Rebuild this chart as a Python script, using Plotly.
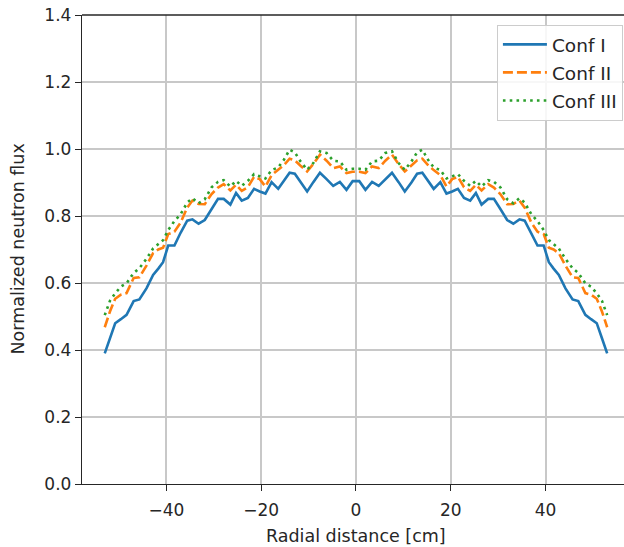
import plotly.graph_objects as go

# Radial positions of the computed flux points [cm]
radial_cm = [
    -53.0, -51.9, -50.8, -49.6, -48.4, -46.9, -45.7, -44.2, -42.8, -41.7,
    -40.7, -39.6, -38.3, -37.0, -35.6, -34.5, -33.2, -31.9, -30.5, -29.1,
    -27.9, -26.5, -25.3, -24.1, -22.8, -21.5, -20.3, -19.1, -17.8, -16.4,
    -15.2, -14.0, -12.9, -11.7, -10.3, -9.0, -7.6, -6.2, -4.8, -3.4,
    -2.0, -0.7,
    0.7, 2.0, 3.4, 4.8, 6.2, 7.6, 9.0, 10.3, 11.7, 12.9,
    14.0, 15.2, 16.4, 17.8, 19.1, 20.3, 21.5, 22.8, 24.1, 25.3,
    26.5, 27.9, 29.1, 30.5, 31.9, 33.2, 34.5, 35.6, 37.0, 38.3,
    39.6, 40.7, 41.7, 42.8, 44.2, 45.7, 46.9, 48.4, 49.6, 50.8,
    51.9, 53.0,
]

flux_conf1 = [
    0.390, 0.435, 0.480, 0.492, 0.505, 0.546, 0.551, 0.584, 0.624, 0.643,
    0.662, 0.712, 0.712, 0.750, 0.786, 0.790, 0.777, 0.788, 0.820, 0.851,
    0.851, 0.834, 0.869, 0.846, 0.854, 0.881, 0.873, 0.867, 0.901, 0.881,
    0.905, 0.929, 0.926, 0.900, 0.873, 0.901, 0.929, 0.910, 0.890, 0.902,
    0.878, 0.904,
    0.904, 0.878, 0.902, 0.890, 0.910, 0.929, 0.901, 0.873, 0.900, 0.926,
    0.929, 0.905, 0.881, 0.901, 0.867, 0.873, 0.881, 0.854, 0.846, 0.869,
    0.834, 0.851, 0.851, 0.820, 0.788, 0.777, 0.790, 0.786, 0.750, 0.712,
    0.712, 0.662, 0.643, 0.624, 0.584, 0.551, 0.546, 0.505, 0.492, 0.480,
    0.435, 0.390,
]

flux_conf2 = [
    0.468, 0.515, 0.553, 0.565, 0.570, 0.615, 0.617, 0.652, 0.689, 0.700,
    0.705, 0.746, 0.753, 0.780, 0.825, 0.846, 0.836, 0.835, 0.865, 0.885,
    0.895, 0.876, 0.893, 0.875, 0.886, 0.917, 0.910, 0.888, 0.922, 0.937,
    0.952, 0.971, 0.966, 0.950, 0.933, 0.955, 0.983, 0.965, 0.943, 0.948,
    0.928, 0.932,
    0.932, 0.928, 0.948, 0.943, 0.965, 0.983, 0.955, 0.933, 0.950, 0.966,
    0.971, 0.952, 0.937, 0.922, 0.888, 0.910, 0.917, 0.886, 0.875, 0.893,
    0.876, 0.895, 0.885, 0.865, 0.835, 0.836, 0.846, 0.825, 0.780, 0.753,
    0.746, 0.705, 0.700, 0.689, 0.652, 0.617, 0.615, 0.570, 0.565, 0.553,
    0.515, 0.468,
]

flux_conf3 = [
    0.504, 0.547, 0.569, 0.589, 0.599, 0.630, 0.644, 0.672, 0.703, 0.715,
    0.728, 0.758, 0.785, 0.805, 0.840, 0.853, 0.838, 0.850, 0.885, 0.902,
    0.907, 0.888, 0.905, 0.890, 0.905, 0.925, 0.918, 0.912, 0.937, 0.945,
    0.968, 0.998, 0.990, 0.963, 0.938, 0.958, 0.993, 0.988, 0.965, 0.963,
    0.938, 0.941,
    0.941, 0.938, 0.963, 0.965, 0.988, 0.993, 0.958, 0.938, 0.963, 0.990,
    0.998, 0.968, 0.945, 0.937, 0.912, 0.918, 0.925, 0.905, 0.890, 0.905,
    0.888, 0.907, 0.902, 0.885, 0.850, 0.838, 0.853, 0.840, 0.805, 0.785,
    0.758, 0.728, 0.715, 0.703, 0.672, 0.644, 0.630, 0.599, 0.589, 0.569,
    0.547, 0.504,
]

series_names = ["Conf I", "Conf II", "Conf III"]
x_ticks = [-40, -20, 0, 20, 40]
x_tick_labels = ["\u221240", "\u221220", "0", "20", "40"]
y_ticks = [0.0, 0.2, 0.4, 0.6, 0.8, 1.0, 1.2, 1.4]
y_tick_labels = ["0.0", "0.2", "0.4", "0.6", "0.8", "1.0", "1.2", "1.4"]

FONT = "DejaVu Sans"
TEXT = "#262626"
GRID = "#c8c8c8"

styles = [
    dict(color="#1f77b4", width=2.6, dash="solid"),
    dict(color="#ff7f0e", width=2.6, dash="10px,4px"),
    dict(color="#2ca02c", width=2.6, dash="2.6px,4.2px"),
]

fig = go.Figure()
for i, (name, ys) in enumerate(zip(series_names, [flux_conf1, flux_conf2, flux_conf3])):
    fig.add_trace(go.Scatter(
        x=radial_cm, y=ys, mode="lines", name=name,
        line=styles[i], legendgroup=f"g{i}",
    ))

fig.update_layout(
    width=624, height=547,
    margin=dict(l=82, r=0, t=15, b=63),
    paper_bgcolor="white", plot_bgcolor="white",
    font=dict(family=FONT, color=TEXT, size=17),
    showlegend=True,
    legend=dict(
        x=0.998, y=0.979, xanchor="right", yanchor="top",
        bgcolor="rgba(255,255,255,0.85)", bordercolor="#cccccc", borderwidth=1,
        font=dict(family=FONT, size=18.5, color=TEXT),
        tracegroupgap=1, itemwidth=44,
    ),
    xaxis=dict(
        range=[-57.8, 56.55],
        tickmode="array", tickvals=x_ticks, ticktext=x_tick_labels,
        showgrid=True, gridcolor=GRID, gridwidth=1.5,
        zeroline=False,
        showline=True, linecolor=TEXT, linewidth=1.4, mirror=False,
        ticks="outside", ticklen=6, tickwidth=1.4, tickcolor=TEXT,
        tickfont=dict(family=FONT, size=17, color=TEXT),
        ticklabelstandoff=4,
    ),
    yaxis=dict(
        range=[0, 1.4],
        tickmode="array", tickvals=y_ticks, ticktext=y_tick_labels,
        showgrid=True, gridcolor=GRID, gridwidth=1.5,
        zeroline=False,
        showline=True, linecolor=TEXT, linewidth=1.4, mirror=False,
        ticks="outside", ticklen=6, tickwidth=1.4, tickcolor=TEXT,
        tickfont=dict(family=FONT, size=17, color=TEXT),
    ),
    shapes=[
        # top spine of the axes frame
        dict(type="line", xref="paper", yref="paper", x0=0, x1=1, y0=1, y1=1,
             line=dict(color=TEXT, width=1.4), layer="above"),
    ],
    annotations=[
        dict(text="Radial distance [cm]", xref="x", yref="paper", x=0, y=0,
             yshift=-52, showarrow=False, xanchor="center", yanchor="middle",
             font=dict(family=FONT, size=17.5, color=TEXT)),
        dict(text="Normalized neutron flux", xref="paper", yref="paper", x=0, y=0.5,
             xshift=-65, textangle=-90, showarrow=False,
             xanchor="center", yanchor="middle",
             font=dict(family=FONT, size=17.5, color=TEXT)),
    ],
)

fig.write_html("out.html")
